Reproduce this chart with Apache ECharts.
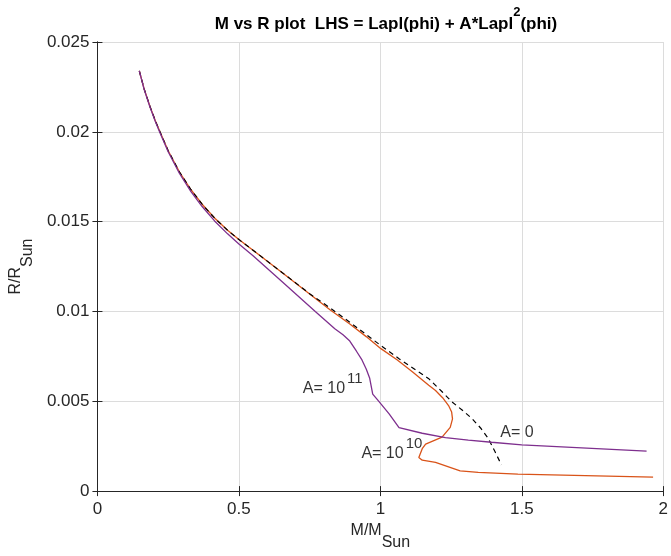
<!DOCTYPE html>
<html><head><meta charset="utf-8">
<script src="https://cdn.jsdelivr.net/npm/echarts@6/dist/echarts.min.js"></script>
<style>html,body{margin:0;padding:0;background:#fff;overflow:hidden}#c{width:671px;height:556px}</style>
</head><body><div id="c"></div>
<script>
// A = 10^10 (orange)
const orangeX = [0.148,0.165,0.186,0.205,0.221,0.25,0.29,0.33,0.37,0.414,0.46,0.5,0.55,0.65,0.75,0.822,0.892,0.95,1.002,1.06,1.113,1.171,1.195,1.22,1.241,1.252,1.255,1.247,1.218,1.160,1.148,1.136,1.148,1.195,1.282,1.346,1.486,1.964];
const orangeY = [0.02339,0.02239,0.0214,0.0206,0.0200,0.01895,0.01776,0.01679,0.01597,0.0152,0.01452,0.0140,0.01341,0.0122,0.01097,0.01010,0.0093,0.0086,0.00793,0.0073,0.00665,0.00589,0.00560,0.0052,0.00476,0.0044,0.00402,0.00355,0.00300,0.00262,0.00236,0.00187,0.00172,0.00160,0.00113,0.00104,0.00094,0.00078];
// A = 10^11 (purple)
const purpleX = [0.148,0.165,0.186,0.205,0.221,0.25,0.29,0.33,0.37,0.414,0.46,0.5,0.55,0.65,0.77,0.839,0.868,0.892,0.915,0.935,0.950,0.962,0.973,0.991,1.031,1.066,1.148,1.230,1.311,1.393,1.500,1.941];
const purpleY = [0.02339,0.02237,0.02137,0.02056,0.01995,0.01889,0.01768,0.01669,0.01584,0.01504,0.01432,0.01375,0.0131,0.0117,0.0100,0.00904,0.00870,0.00835,0.0078,0.0073,0.0068,0.0063,0.0054,0.00506,0.0043,0.00353,0.00322,0.00298,0.00284,0.00272,0.00257,0.00223];
// A = 0 (dashed black)
const zeroX = [0.148,0.165,0.186,0.205,0.221,0.25,0.29,0.33,0.37,0.414,0.46,0.5,0.55,0.65,0.75,0.822,0.892,1.002,1.066,1.171,1.22,1.253,1.29,1.323,1.355,1.381,1.405,1.428];
const zeroY = [0.02339,0.02239,0.0214,0.0206,0.0200,0.01895,0.01776,0.01679,0.01597,0.0152,0.01452,0.0140,0.01341,0.0122,0.01099,0.0102,0.0094,0.0081,0.00737,0.00626,0.0055,0.00497,0.0045,0.00405,0.0035,0.00294,0.0022,0.00146];
// curve labels
const labelText = ['A= 10', 'A= 10', 'A= 0'];
const labelSup = ['11', '10', ''];
const labelX = [0.726, 0.933, 1.424];
const labelY = [0.00571, 0.00211, 0.00327];
const xTicks = [0, 0.5, 1, 1.5, 2];
const yTicks = [0, 0.005, 0.01, 0.015, 0.02, 0.025];

const zip = (a, b) => a.map((v, i) => [v, b[i]]);
const font = 'Liberation Sans, Arial, Helvetica, sans-serif';
const axisCol = '#262626';
const chart = echarts.init(document.getElementById('c'));
const baseX = {
  type: 'value', min: xTicks[0], max: xTicks[xTicks.length - 1], interval: 0.5,
  axisLine: { show: true, lineStyle: { color: axisCol, width: 1 } },
  axisTick: { show: true, inside: true, length: 5, lineStyle: { color: axisCol } },
  splitLine: { show: false }
};
const baseY = {
  type: 'value', min: yTicks[0], max: yTicks[yTicks.length - 1], interval: 0.005,
  axisLine: { show: true, lineStyle: { color: axisCol, width: 1 } },
  axisTick: { show: true, inside: true, length: 5, lineStyle: { color: axisCol } },
  splitLine: { show: false }
};
const nameRich = {
  a: { fontFamily: font, fontSize: 16, color: '#262626', verticalAlign: 'middle', lineHeight: 40 },
  b: { fontFamily: font, fontSize: 16, color: '#262626', verticalAlign: 'bottom', lineHeight: 18 }
};
chart.setOption({
  animation: false,
  backgroundColor: '#fff',
  title: {
    text: '{t|M vs R plot  LHS = Lapl(phi) + A*Lapl}{s|2}{t|(phi)}',
    left: 381, top: 1, textAlign: 'center',
    textStyle: {
      rich: {
        t: { fontFamily: font, fontWeight: 'bold', fontSize: 17, color: '#000', verticalAlign: 'middle', lineHeight: 36 },
        s: { fontFamily: font, fontWeight: 'bold', fontSize: 13, color: '#000', verticalAlign: 'top', lineHeight: 16 }
      }
    }
  },
  grid: { left: 95, right: 4, top: 42, bottom: 63, containLabel: false },
  xAxis: [
    Object.assign({}, baseX, {
      position: 'bottom',
      name: '{a|M/M}{b|Sun}', nameLocation: 'middle', nameGap: 13,
      nameTextStyle: { rich: nameRich },
      axisLabel: { fontFamily: font, fontSize: 17, color: '#262626', margin: 10 },
      splitLine: { show: true, lineStyle: { color: '#dcdcdc', width: 1 } }
    }),
    Object.assign({}, baseX, { position: 'top', axisLabel: { show: false } })
  ],
  yAxis: [
    Object.assign({}, baseY, {
      position: 'left',
      name: '{a|R/R}{b|Sun}', nameLocation: 'middle', nameGap: 52, nameRotate: 90,
      nameTextStyle: { rich: nameRich },
      axisLabel: { fontFamily: font, fontSize: 17, color: '#262626', margin: 8 },
      splitLine: { show: true, lineStyle: { color: '#dcdcdc', width: 1 } }
    }),
    Object.assign({}, baseY, { position: 'right', axisLabel: { show: false } })
  ],
  series: [
    { type: 'line', data: zip(zeroX, zeroY), showSymbol: false, smooth: false,
      lineStyle: { color: '#000', width: 1.2, type: [5, 4] }, z: 3 },
    { type: 'line', data: zip(orangeX, orangeY), showSymbol: false, smooth: false,
      lineStyle: { color: '#D95319', width: 1.3 }, z: 2 },
    { type: 'line', data: zip(purpleX, purpleY), showSymbol: false, smooth: false,
      lineStyle: { color: '#7E2F8E', width: 1.3 }, z: 4 },
    { type: 'scatter', symbolSize: 0, silent: true, z: 5,
      data: labelX.map((x, i) => [x, labelY[i]]),
      label: { show: true, position: 'right', distance: 0,
        formatter: p => '{m|' + labelText[p.dataIndex] + '}' + (labelSup[p.dataIndex] ? '{s|' + labelSup[p.dataIndex] + '}' : ''),
        rich: {
          m: { fontFamily: font, fontSize: 16, color: '#000', verticalAlign: 'middle', lineHeight: 34 },
          s: { fontFamily: font, fontSize: 15, color: '#000', verticalAlign: 'top', lineHeight: 16, padding: [0, 0, 0, 2] }
        } } }
  ]
});
</script></body></html>
